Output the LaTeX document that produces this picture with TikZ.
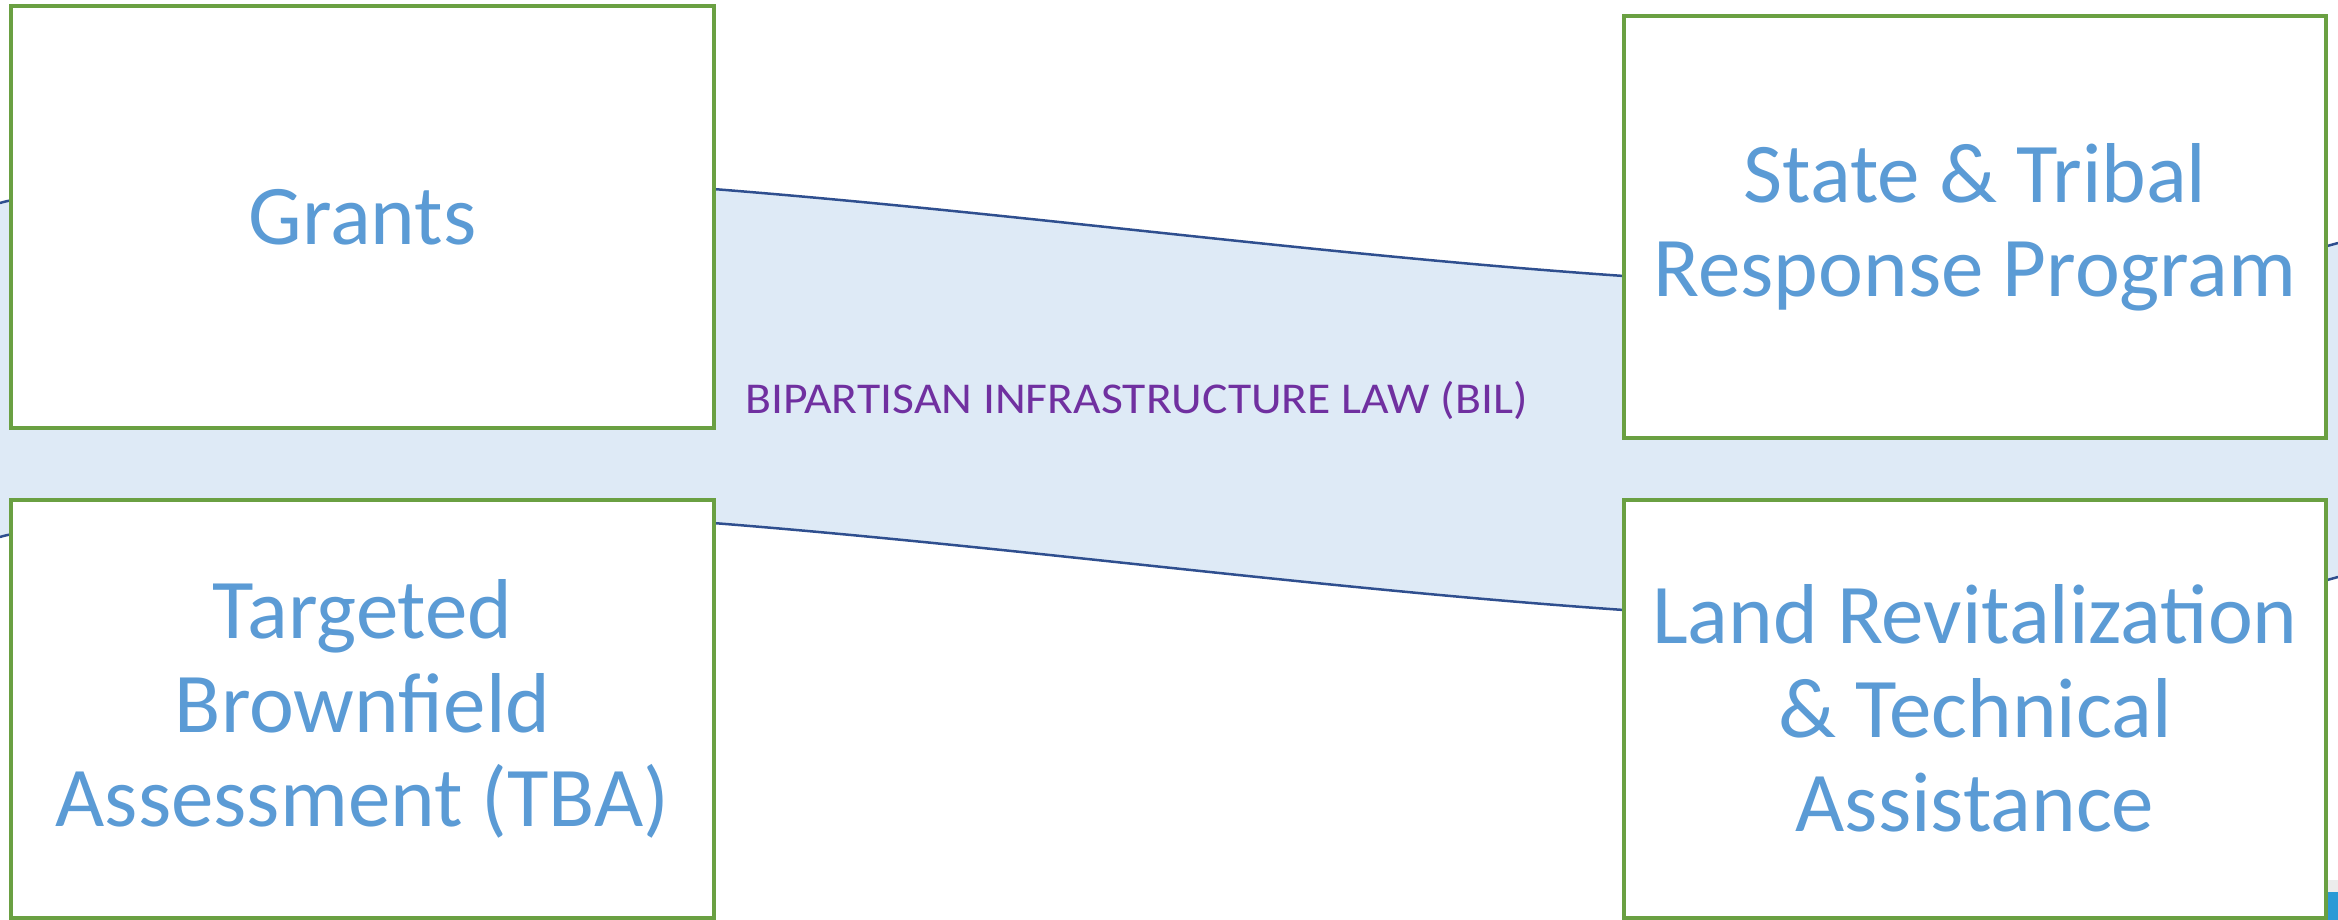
\documentclass[tikz,border=0pt]{standalone}
\usepackage{fontspec}
\setmainfont{Carlito}
\definecolor{bandfill}{HTML}{DEEAF6}
\definecolor{bandline}{HTML}{2F4F8F}
\definecolor{boxgreen}{HTML}{6AA042}
\definecolor{txtblue}{HTML}{5B9BD5}
\definecolor{bilpurple}{HTML}{7030A0}
\definecolor{cornerblue}{HTML}{2A9AD6}
\tikzset{
  prog/.style={draw=boxgreen, line width=4pt, fill=white, inner sep=0pt,
    align=center, text=txtblue, font=\fontsize{85}{94}\selectfont},
  wave/.style={draw=bandline, line width=2.5pt},
  biltext/.style={text=bilpurple, inner sep=0pt, font=\fontsize{44}{50}\selectfont}
}
\begin{document}
\begin{tikzpicture}[x=1pt,y=-1pt]
\useasboundingbox (0,0) rectangle (2338,920);
% band
\fill[bandfill] (0,203) .. controls (60,183) and (560,177) .. (713,189)
  .. controls (1017,213) and (1320,255) .. (1624,276)
  .. controls (1862,293) and (2100,310) .. (2338,243)
  -- (2338,577)
  .. controls (2100,644) and (1862,627) .. (1624,610)
  .. controls (1320,589) and (1017,547) .. (713,523)
  .. controls (560,511) and (60,517) .. (0,537) -- cycle;
\draw[wave] (0,203) .. controls (60,183) and (560,177) .. (713,189)
  .. controls (1017,213) and (1320,255) .. (1624,276)
  .. controls (1862,293) and (2100,310) .. (2338,243);
\draw[wave] (0,537) .. controls (60,517) and (560,511) .. (713,523)
  .. controls (1017,547) and (1320,589) .. (1624,610)
  .. controls (1862,627) and (2100,644) .. (2338,577);
% corner fragment
\fill[gray!15] (2328,880) rectangle (2338,892);
\fill[cornerblue] (2328,892) rectangle (2338,920);
% boxes
\node[prog, minimum width=703pt, minimum height=421pt] (grants) at (362.5,217) {Grants};
\node[prog, minimum width=702pt, minimum height=421pt] (state) at (1975,227) {State \& Tribal\\Response Program};
\node[prog, minimum width=703pt, minimum height=418.5pt] (tba) at (362.5,708.75) {Targeted\\Brownfield\\Assessment (TBA)};
\node[prog, minimum width=702pt, minimum height=418.5pt] (land) at (1975,708.75) {Land Revitalization\\\& Technical\\Assistance};
% label
\node[biltext, anchor=base west] (bil) at (745,413) {\scalebox{1.083}[1]{BIPARTISAN INFRASTRUCTURE LAW (BIL)}};
\end{tikzpicture}
\end{document}
